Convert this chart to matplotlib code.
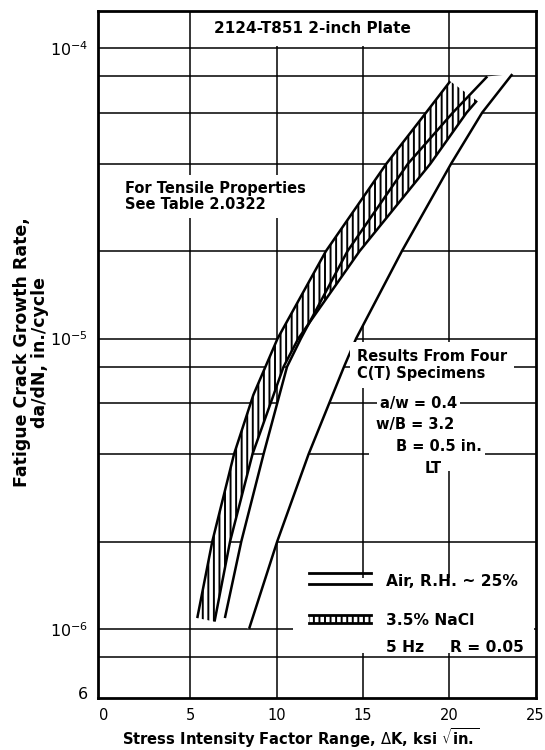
import numpy as np
import matplotlib
matplotlib.use('Agg')
import matplotlib.pyplot as plt
from matplotlib.patches import Rectangle

# Curves: delta K (ksi sqrt(in.)) vs da/dN (in./cycle)
nacl_lo_dk = [5.4, 6.27, 7.53, 8.65, 10.05, 12.85, 16.35, 18.65, 20.05]
nacl_lo_rate = [1.09e-6, 2e-6, 4e-6, 6.4e-6, 1e-5, 2e-5, 4e-5, 6e-5, 7.7e-5]
nacl_hi_dk = [6.4, 7.3, 8.6, 10.4, 11.25, 14.8, 18.9, 21.0, 21.6]
nacl_hi_rate = [1.06e-6, 2e-6, 4e-6, 8e-6, 1e-5, 2e-5, 4e-5, 6e-5, 6.6e-5]
air_lo_dk = [7.0, 7.95, 9.24, 10.6, 11.4, 14.1, 17.6, 20.2, 22.2]
air_lo_rate = [1.09e-6, 2e-6, 4e-6, 8e-6, 1e-5, 2e-5, 4e-5, 6e-5, 8e-5]
air_hi_dk = [8.4, 10.03, 11.85, 13.9, 14.6, 17.25, 20.1, 21.9, 23.65]
air_hi_rate = [1.0e-6, 2e-6, 4e-6, 8e-6, 1e-5, 2e-5, 4e-5, 6e-5, 8.15e-5]

x_ticks = [0, 5, 10, 15, 20, 25]
y_ticks = [6e-7, 8e-7, 1e-6, 2e-6, 4e-6, 6e-6, 8e-6, 1e-5, 2e-5, 4e-5, 6e-5, 8e-5, 1e-4]
y_labels = ['6', '', r'10$^{-6}$', '', '', '', '', r'10$^{-5}$', '', '', '', '', r'10$^{-4}$']

plt.rcParams['font.family'] = ['DejaVu Sans']
plt.rcParams['mathtext.fontset'] = 'dejavusans'
plt.rcParams['hatch.linewidth'] = 1.4

fig = plt.figure(figsize=(5.45, 7.5), dpi=100)
ax = fig.add_axes([0.1798, 0.0693, 0.803, 0.916])

ax.set_yscale('log')
ax.set_xlim(-0.35, 25)
ax.set_ylim(5.78e-7, 1.344e-4)

ax.set_xticks(x_ticks)
ax.set_xticklabels([str(v) for v in x_ticks])
ax.set_yticks(y_ticks)
ax.set_yticklabels(y_labels)
ax.yaxis.set_minor_locator(matplotlib.ticker.NullLocator())
ax.tick_params(length=0, pad=7)
ax.tick_params(axis='x', labelsize=10.5)
ax.tick_params(axis='y', labelsize=11.5)

ax.set_axisbelow(True)
ax.grid(True, color='black', lw=1.1)
ax.get_xgridlines()[0].set_visible(False)
ax.get_xgridlines()[-1].set_visible(False)
ax.get_ygridlines()[0].set_visible(False)

for s in ax.spines.values():
    s.set_linewidth(2.0)
    s.set_zorder(10)

# white masks behind the notes
masks = [
    (0.239, 0.949, 0.539, 0.05),      # title strip
    (0.793, 0.33, 0.03, 0.17),        # 20 gridline behind specimen notes
    (0.62, 0.352, 0.06, 0.014),       # 4e-6 gridline left of the notes
    (0.445, 0.0655, 0.552, 0.1085),   # legend area
]
for x0, y0, w, h in masks:
    ax.add_patch(Rectangle((x0, y0), w, h, transform=ax.transAxes,
                           facecolor='white', edgecolor='none', zorder=1))

# air band (white) and NaCl band (hatched)
ax.fill(np.r_[air_lo_dk, air_hi_dk[::-1]], np.r_[air_lo_rate, air_hi_rate[::-1]],
        facecolor='white', edgecolor='none', zorder=2)
ax.fill(np.r_[nacl_lo_dk, nacl_hi_dk[::-1]], np.r_[nacl_lo_rate, nacl_hi_rate[::-1]],
        facecolor='white', edgecolor='black', hatch='|||', linewidth=0, zorder=3)

for dk, rate in [(nacl_lo_dk, nacl_lo_rate), (nacl_hi_dk, nacl_hi_rate),
                 (air_lo_dk, air_lo_rate), (air_hi_dk, air_hi_rate)]:
    ax.plot(dk, rate, color='black', lw=1.8, zorder=4, solid_capstyle='butt')

bold = dict(fontweight='bold', fontsize=10.5, zorder=6)
ax.text(0.491, 0.975, '2124-T851 2-inch Plate', transform=ax.transAxes,
        ha='center', va='center', fontweight='bold', fontsize=11, zorder=6)
ax.text(0.0614, 0.730, 'For Tensile Properties\nSee Table 2.0322', transform=ax.transAxes,
        ha='left', va='center', linespacing=1.15,
        bbox=dict(facecolor='white', edgecolor='none', pad=4), **bold)
ax.text(0.591, 0.4847, 'Results From Four\nC(T) Specimens', transform=ax.transAxes,
        ha='left', va='center', linespacing=1.1,
        bbox=dict(facecolor='white', edgecolor='none', pad=5), **bold)
for label, xf, yf in [('a/w = 0.4', 0.732, 0.4294), ('w/B = 3.2', 0.7255, 0.3988),
                      ('B = 0.5 in.', 0.780, 0.3654), ('LT', 0.7664, 0.3348)]:
    ax.text(xf, yf, label, transform=ax.transAxes, ha='center', va='center',
            bbox=dict(facecolor='white', edgecolor='none', pad=2), **bold)

# legend drawn by hand
leg = dict(transform=ax.transAxes, color='black', lw=2.0, zorder=5)
ax.plot([0.482, 0.623], [0.1815, 0.1815], **leg)
ax.plot([0.482, 0.623], [0.166, 0.166], **leg)
ax.fill_between([0.482, 0.623], 0.1092, 0.1208, transform=ax.transAxes, facecolor='white',
                edgecolor='black', hatch='|||', linewidth=0, zorder=5)
ax.plot([0.482, 0.623], [0.1208, 0.1208], **leg)
ax.plot([0.482, 0.623], [0.1092, 0.1092], **leg)
legtxt = dict(transform=ax.transAxes, ha='left', va='center', fontweight='bold',
              fontsize=11.2, zorder=6)
ax.text(0.657, 0.169, 'Air, R.H. ~ 25%', **legtxt)
ax.text(0.657, 0.1135, '3.5% NaCl', **legtxt)
ax.text(0.657, 0.0732, '5 Hz', **legtxt)
ax.text(0.805, 0.0732, 'R = 0.05', **legtxt)

fig.text(301 / 545, 1 - 738 / 750, r'Stress Intensity Factor Range, $\Delta$K, ksi $\sqrt{\mathbf{in.}}$',
         ha='center', va='center', fontweight='bold', fontsize=10.6)
fig.text(31 / 545, 1 - 352 / 750, 'Fatigue Crack Growth Rate,\nda/dN, in./cycle',
         rotation=90, ha='center', va='center', multialignment='center',
         fontweight='bold', fontsize=12.5, linespacing=1.0)

fig.savefig('out.png', dpi=100)
